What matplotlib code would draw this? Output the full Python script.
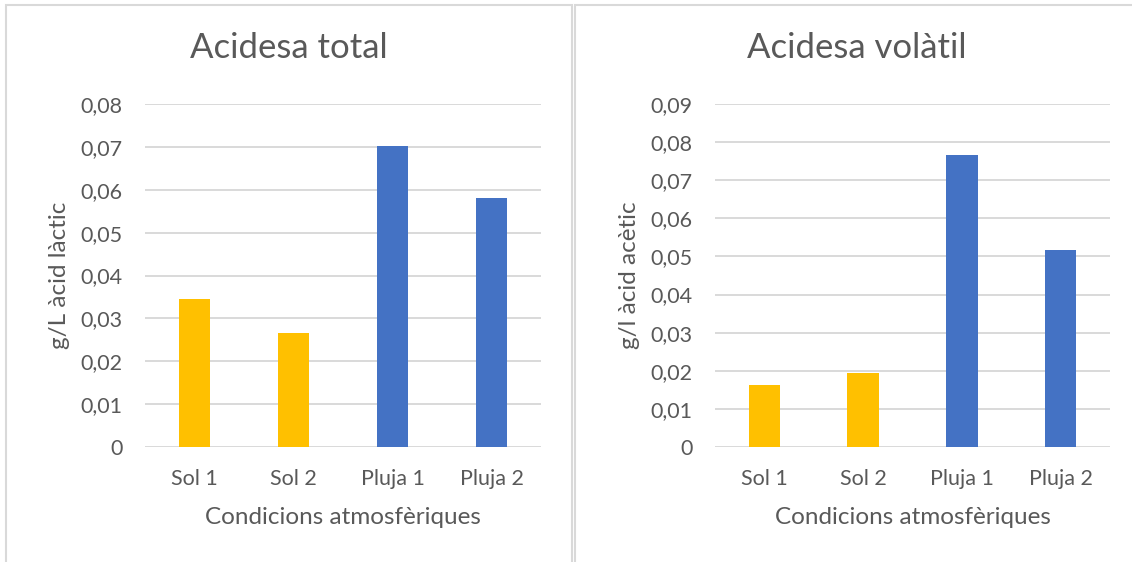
import matplotlib.pyplot as plt
from matplotlib.patches import Rectangle
from matplotlib.ticker import FuncFormatter

# Data
categories = ['Sol 1', 'Sol 2', 'Pluja 1', 'Pluja 2']
acidesa_total = [0.0345, 0.0266, 0.0702, 0.0581]
acidesa_volatil = [0.0163, 0.0194, 0.0767, 0.0518]
bar_colors = ['#FFC000', '#FFC000', '#4472C4', '#4472C4']

total_ticks = [0, 0.01, 0.02, 0.03, 0.04, 0.05, 0.06, 0.07, 0.08]
volatil_ticks = [0, 0.01, 0.02, 0.03, 0.04, 0.05, 0.06, 0.07, 0.08, 0.09]

plt.rcParams['font.family'] = ['Lato', 'DejaVu Sans']
txt = '#595959'
grid = '#d9d9d9'
W, H = 1132, 562

fig = plt.figure(figsize=(W / 100, H / 100), dpi=100)

# chart borders
fig.patches.append(Rectangle((6 / W, -0.1), (572 - 6) / W, 1.1 - 5 / H, transform=fig.transFigure,
                             fill=False, edgecolor=grid, linewidth=1.5))
fig.patches.append(Rectangle((575 / W, -0.1), 0.6, 1.1 - 5 / H, transform=fig.transFigure,
                             fill=False, edgecolor=grid, linewidth=1.5))


def comma(v, pos):
    if v == 0:
        return '0'
    return f'{v:.2f}'.replace('.', ',')


def draw(rect, values, ticks, title, ylabel, title_x):
    ax = fig.add_axes(rect)
    ax.bar(range(len(categories)), values, width=0.32, color=bar_colors, zorder=3)
    ax.set_xlim(-0.5, len(categories) - 0.5)
    ax.set_ylim(0, ticks[-1])
    ax.set_yticks(ticks)
    ax.yaxis.set_major_formatter(FuncFormatter(comma))
    ax.set_xticks(range(len(categories)))
    ax.set_xticklabels(categories)
    ax.grid(axis='y', color=grid, linewidth=1.4, zorder=0)
    ax.set_axisbelow(True)
    for s in ax.spines.values():
        s.set_visible(False)
    ax.tick_params(length=0, colors=txt, labelsize=15.5)
    ax.tick_params(axis='y', pad=16)
    ax.tick_params(axis='x', pad=16)
    ax.set_xlabel('Condicions atmosfèriques', color=txt, fontsize=17.5, labelpad=13)
    ax.set_ylabel(ylabel, color=txt, fontsize=17.5, labelpad=8)
    fig.text(title_x / W, 1 - 48 / H, title, color=txt, fontsize=25, ha='center', va='center')
    return ax


bottom = 1 - 447 / H
height = (447 - 104) / H
draw([145 / W, bottom, 396 / W, height], acidesa_total, total_ticks,
     'Acidesa total', 'g/L àcid làctic', 289)
draw([715 / W, bottom, 395 / W, height], acidesa_volatil, volatil_ticks,
     'Acidesa volàtil', 'g/l àcid acètic', 857)

fig.savefig('out.png', dpi=100)
